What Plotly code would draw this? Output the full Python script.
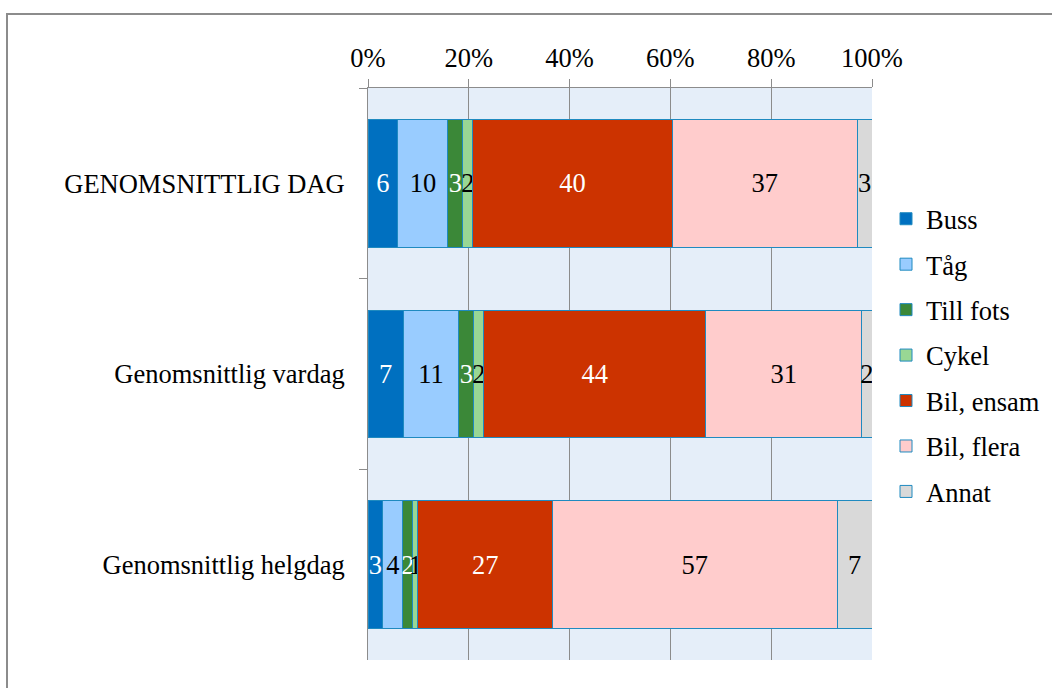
import plotly.graph_objects as go

categories = ["GENOMSNITTLIG DAG", "Genomsnittlig vardag", "Genomsnittlig helgdag"]
series_names = ["Buss", "Tåg", "Till fots", "Cykel", "Bil, ensam", "Bil, flera", "Annat"]
buss = [6, 7, 3]
tag = [10, 11, 4]
till_fots = [3, 3, 2]
cykel = [2, 2, 1]
bil_ensam = [40, 44, 27]
bil_flera = [37, 31, 57]
annat = [3, 2, 7]
x_ticks = [0, 20, 40, 60, 80, 100]
x_tick_labels = ["0%", "20%", "40%", "60%", "80%", "100%"]

series_values = [buss, tag, till_fots, cykel, bil_ensam, bil_flera, annat]
colors = ["#0070C0", "#99CCFF", "#3B8838", "#99D794", "#CC3300", "#FFCCCC", "#D9D9D9"]
text_colors = ["white", "black", "white", "black", "white", "black", "black"]

FONT = "Liberation Serif"
FS = 26.5

W, H = 1052, 688
L, R, T, B = 368, 180, 88, 28
PW, PH = W - L - R, H - T - B

fig = go.Figure()
for i, (name, vals) in enumerate(zip(series_names, series_values)):
    fig.add_trace(go.Bar(
        name=name, y=categories, x=vals, orientation="h",
        marker=dict(color=colors[i], line=dict(color="#1F8AC0", width=1)),
        text=[str(v) for v in vals], textposition="inside",
        insidetextanchor="middle", textangle=0, constraintext="none",
        textfont=dict(family=FONT, size=FS, color=text_colors[i]),
        legendgroup=name,
    ))

fig.update_layout(
    width=W, height=H,
    barmode="stack", barnorm="percent", bargap=0.33,
    paper_bgcolor="white", plot_bgcolor="#E5EEF9",
    margin=dict(l=L, r=R, t=T, b=B, autoexpand=False),
    font=dict(family=FONT, size=FS, color="black"),
    showlegend=True,
    legend=dict(xref="container", yref="container",
                x=886 / W, y=1 - 355.5 / H, xanchor="left", yanchor="middle",
                font=dict(family=FONT, size=FS, color="black"),
                tracegroupgap=8, itemwidth=30, traceorder="grouped",
                bgcolor="rgba(0,0,0,0)"),
    xaxis=dict(side="top", range=[0, 100], tickvals=x_ticks, ticktext=x_tick_labels,
               showgrid=True, gridcolor="#8C8C8C", gridwidth=1,
               ticks="outside", ticklen=8, tickcolor="#8C8C8C",
               showline=True, linecolor="#8C8C8C", zeroline=False,
               ticklabelstandoff=1,
               tickfont=dict(family=FONT, size=FS, color="black"), fixedrange=True),
    yaxis=dict(autorange="reversed", ticks="outside", tickson="boundaries",
               ticklen=8, tickcolor="#8C8C8C", showline=True, linecolor="#8C8C8C",
               showgrid=False, tickfont=dict(family=FONT, size=FS, color="black"),
               ticklabelstandoff=17, fixedrange=True),
    shapes=[dict(type="rect", xref="paper", yref="paper",
                 x0=(7 - L) / PW, x1=(1070 - L) / PW,
                 y0=-(B + 30) / PH, y1=(PH + T - 14) / PH,
                 line=dict(color="#8C8C8C", width=2), fillcolor="rgba(0,0,0,0)",
                 layer="below")],
)

fig.write_html("out.html", config={"displayModeBar": False},
               post_script="document.body.style.margin='0px';")
